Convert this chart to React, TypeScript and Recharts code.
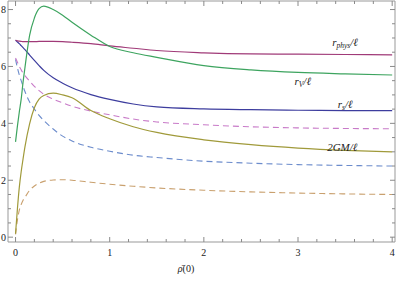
import React from 'react';
import { LineChart, Line, XAxis, YAxis, ReferenceDot } from 'recharts';

// sample points along rho(0)
const rho = [0, 0.02, 0.04, 0.06, 0.08, 0.1, 0.15, 0.2, 0.25, 0.3, 0.4, 0.5, 0.6, 0.8, 1.0, 1.25, 1.5, 2.0, 2.5, 3.0, 3.5, 4.0];

const rV = [3.35, 3.9, 4.4, 4.85, 5.45, 5.96, 7.1, 7.7, 8.03, 8.12, 8.0, 7.8, 7.55, 7.1, 6.7, 6.48, 6.32, 6.03, 5.88, 5.79, 5.74, 5.7];
const rPhys = [6.92, 6.9, 6.89, 6.88, 6.87, 6.87, 6.87, 6.87, 6.88, 6.88, 6.88, 6.87, 6.85, 6.8, 6.72, 6.64, 6.56, 6.48, 6.44, 6.43, 6.42, 6.41];
const rS = [6.92, 6.86, 6.8, 6.73, 6.66, 6.59, 6.4, 6.21, 6.03, 5.86, 5.6, 5.41, 5.25, 5.01, 4.84, 4.68, 4.58, 4.51, 4.48, 4.46, 4.45, 4.45];
const twoGM = [0.12, 1.0, 1.75, 2.3, 2.75, 3.17, 3.99, 4.55, 4.85, 4.98, 5.06, 5.0, 4.9, 4.45, 4.16, 3.88, 3.68, 3.42, 3.25, 3.13, 3.05, 3.0];
const physDash = [6.3, 6.15, 6.0, 5.88, 5.77, 5.68, 5.48, 5.3, 5.15, 5.02, 4.85, 4.72, 4.6, 4.43, 4.3, 4.15, 4.05, 3.95, 3.88, 3.84, 3.82, 3.81];
const sDash = [6.25, 5.95, 5.7, 5.5, 5.3, 5.12, 4.75, 4.5, 4.28, 4.1, 3.8, 3.55, 3.38, 3.16, 3.02, 2.88, 2.8, 2.67, 2.6, 2.55, 2.52, 2.5];
const gmDash = [0.1, 0.6, 0.95, 1.15, 1.3, 1.4, 1.65, 1.8, 1.9, 1.96, 2.01, 2.02, 2.0, 1.93, 1.86, 1.79, 1.73, 1.65, 1.59, 1.55, 1.52, 1.5];

const xTicks = [0, 0.2, 0.4, 0.6, 0.8, 1, 1.2, 1.4, 1.6, 1.8, 2, 2.2, 2.4, 2.6, 2.8, 3, 3.2, 3.4, 3.6, 3.8, 4];
const yTicks = [0, 0.5, 1, 1.5, 2, 2.5, 3, 3.5, 4, 4.5, 5, 5.5, 6, 6.5, 7, 7.5, 8];

const data = rho.map((x, i) => ({
  x,
  rV: rV[i],
  rPhys: rPhys[i],
  rS: rS[i],
  twoGM: twoGM[i],
  physDash: physDash[i],
  sDash: sDash[i],
  gmDash: gmDash[i],
}));

const TICK_COLOR = '#8a8a8a';
const serif = { fontFamily: "'Liberation Serif', 'DejaVu Serif', serif" };
const OFF = 8; // tickSize + tickMargin

const isMajorX = (v: number) => Math.abs(v - Math.round(v)) < 1e-6;
const isMajorY = (v: number) => Math.abs(v / 2 - Math.round(v / 2)) < 1e-6;

const BottomTick = (p: any) => {
  const v = p.payload.value;
  const ay = p.y - OFF;
  const major = isMajorX(v);
  return (
    <g>
      <line x1={p.x} x2={p.x} y1={ay} y2={ay - (major ? 5 : 3)} stroke={TICK_COLOR} />
      {major && (
        <text x={p.x} y={ay + 14} textAnchor="middle" fontSize={10} style={serif} fill="#222">
          {Math.round(v)}
        </text>
      )}
    </g>
  );
};

const TopTick = (p: any) => {
  const v = p.payload.value;
  const ay = p.y + OFF;
  const major = isMajorX(v);
  return <line x1={p.x} x2={p.x} y1={ay} y2={ay + (major ? 5 : 3)} stroke={TICK_COLOR} />;
};

const LeftTick = (p: any) => {
  const v = p.payload.value;
  const ax = p.x + OFF;
  const major = isMajorY(v);
  return (
    <g>
      <line x1={ax} x2={ax + (major ? 5 : 3)} y1={p.y} y2={p.y} stroke={TICK_COLOR} />
      {major && (
        <text x={ax - 2} y={p.y + 3.5} textAnchor="end" fontSize={10} style={serif} fill="#222">
          {Math.round(v)}
        </text>
      )}
    </g>
  );
};

const RightTick = (p: any) => {
  const v = p.payload.value;
  const ax = p.x - OFF;
  const major = isMajorY(v);
  return <line x1={ax} x2={ax - (major ? 5 : 3)} y1={p.y} y2={p.y} stroke={TICK_COLOR} />;
};

const curveLabel = (main: string, sub: string | null, rest: string) => (props: any) => {
  const vb = props.viewBox;
  const cx = vb.x + vb.width / 2;
  const cy = vb.y + vb.height / 2;
  return (
    <text x={cx} y={cy + 4} textAnchor="middle" fontSize={11} style={{ ...serif, fontStyle: 'italic' }} fill="#222">
      {main}
      {sub && (
        <tspan fontSize={7.5} dy={2.5}>
          {sub}
        </tspan>
      )}
      <tspan dy={sub ? -2.5 : 0}>{rest}</tspan>
    </text>
  );
};

const XLabel = (props: any) => {
  const vb = props.viewBox;
  return (
    <text x={vb.x + 178} y={vb.y + 30} textAnchor="middle" fontSize={10} style={serif} fill="#222">
      <tspan fontStyle="italic">{'\u03C1\u0304'}</tspan>(0)
    </text>
  );
};

export default function App() {
  return (
    <div style={{ position: 'absolute', left: 0, top: 0, width: 400, height: 282, background: '#fff' }}>
      <LineChart width={400} height={282} data={data} margin={{ top: 0, right: 4, left: 0, bottom: 0 }}>
        <XAxis
          xAxisId="b"
          dataKey="x"
          type="number"
          domain={[-0.08, 4.03]}
          ticks={xTicks}
          interval={0}
          height={40}
          allowDataOverflow
          axisLine={{ stroke: '#999' }}
          tickLine={false}
          tickSize={6}
          tickMargin={2}
          tick={<BottomTick />}
          label={<XLabel />}
        />
        <XAxis
          xAxisId="t"
          orientation="top"
          dataKey="x"
          type="number"
          domain={[-0.08, 4.03]}
          ticks={xTicks}
          interval={0}
          height={1}
          allowDataOverflow
          axisLine={{ stroke: '#999' }}
          tickLine={false}
          tickSize={6}
          tickMargin={2}
          tick={<TopTick />}
        />
        <YAxis
          yAxisId="l"
          type="number"
          domain={[-0.17, 8.3]}
          ticks={yTicks}
          interval={0}
          width={8}
          allowDataOverflow
          axisLine={{ stroke: '#999' }}
          tickLine={false}
          tickSize={6}
          tickMargin={2}
          tick={<LeftTick />}
        />
        <YAxis
          yAxisId="r"
          orientation="right"
          type="number"
          domain={[-0.17, 8.3]}
          ticks={yTicks}
          interval={0}
          width={1}
          allowDataOverflow
          axisLine={{ stroke: '#999' }}
          tickLine={false}
          tickSize={6}
          tickMargin={2}
          tick={<RightTick />}
        />
        <Line xAxisId="b" yAxisId="l" type="monotone" dataKey="gmDash" stroke="#c9a06e" strokeWidth={1.1} strokeDasharray="6 4" dot={false} isAnimationActive={false} />
        <Line xAxisId="b" yAxisId="l" type="monotone" dataKey="sDash" stroke="#6c8ccc" strokeWidth={1.1} strokeDasharray="6 4" dot={false} isAnimationActive={false} />
        <Line xAxisId="b" yAxisId="l" type="monotone" dataKey="physDash" stroke="#c87ac8" strokeWidth={1.1} strokeDasharray="6 4" dot={false} isAnimationActive={false} />
        <Line xAxisId="b" yAxisId="l" type="monotone" dataKey="twoGM" stroke="#a09a3a" strokeWidth={1.2} dot={false} isAnimationActive={false} />
        <Line xAxisId="b" yAxisId="l" type="monotone" dataKey="rS" stroke="#3d3d9e" strokeWidth={1.2} dot={false} isAnimationActive={false} />
        <Line xAxisId="b" yAxisId="l" type="monotone" dataKey="rPhys" stroke="#a03a78" strokeWidth={1.2} dot={false} isAnimationActive={false} />
        <Line xAxisId="b" yAxisId="l" type="monotone" dataKey="rV" stroke="#3da45f" strokeWidth={1.2} dot={false} isAnimationActive={false} />
        <ReferenceDot xAxisId="b" yAxisId="l" x={3.5} y={6.86} r={1} fill="none" stroke="none" label={curveLabel('r', 'phys', '/\u2113')} />
        <ReferenceDot xAxisId="b" yAxisId="l" x={3.05} y={5.5} r={1} fill="none" stroke="none" label={curveLabel('r', 'V', '/\u2113')} />
        <ReferenceDot xAxisId="b" yAxisId="l" x={3.5} y={4.69} r={1} fill="none" stroke="none" label={curveLabel('r', 's', '/\u2113')} />
        <ReferenceDot xAxisId="b" yAxisId="l" x={3.47} y={3.16} r={1} fill="none" stroke="none" label={curveLabel('2GM', null, '/\u2113')} />
      </LineChart>
    </div>
  );
}
